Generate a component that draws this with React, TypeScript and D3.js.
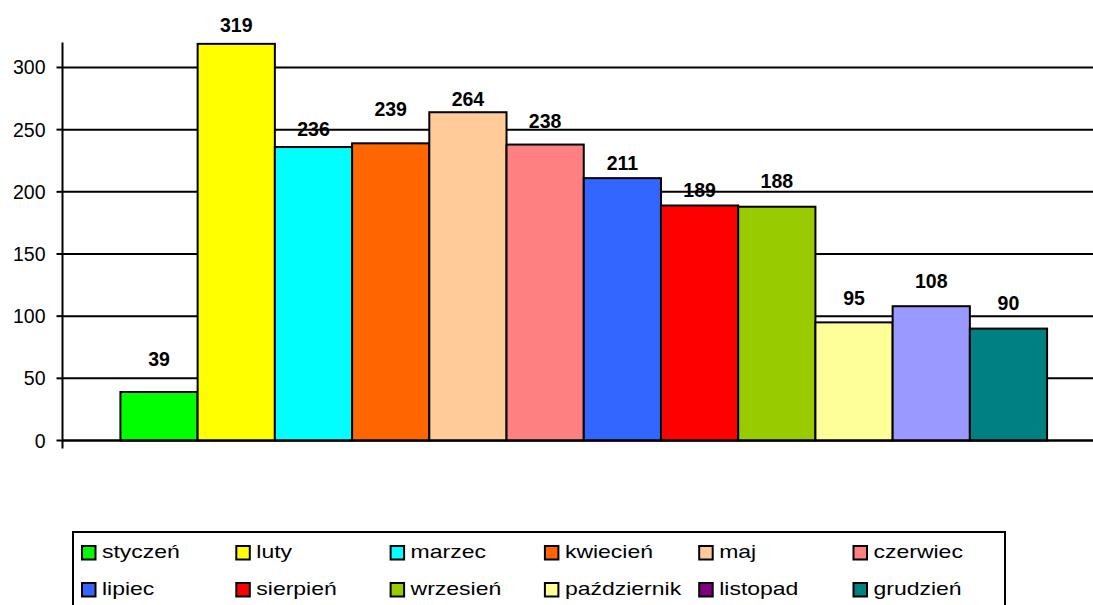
import React from "react";
import * as d3 from "d3";

const months = [
  "styczeń", "luty", "marzec", "kwiecień", "maj", "czerwiec",
  "lipiec", "sierpień", "wrzesień", "październik", "listopad", "grudzień",
];
const values = [39, 319, 236, 239, 264, 238, 211, 189, 188, 95, 108, 90];
const barColors = [
  "#00FF00", "#FFFF00", "#00FFFF", "#FF6600", "#FFCC99", "#FF8080",
  "#3366FF", "#FF0000", "#99CC00", "#FFFF99", "#9999FF", "#008080",
];
const legendColors = [
  "#00FF00", "#FFFF00", "#00FFFF", "#FF6600", "#FFCC99", "#FF8080",
  "#3366FF", "#FF0000", "#99CC00", "#FFFF99", "#800080", "#008080",
];
// gap (px) between bar top and label baseline, as placed in the original
const labelGaps = [26, 11.5, 10.6, 27, 6.6, 17, 8, 8, 18.4, 17.3, 18, 18.3];
const yTicks = [0, 50, 100, 150, 200, 250, 300];
const yMax = 320;

const W = 1093;
const H = 605;
const FONT = "'Liberation Sans', Arial, Helvetica, sans-serif";

export default function App() {
  const plotLeft = 62.5;
  const plotRight = 1105;
  const x = d3
    .scaleBand<string>()
    .domain(months)
    .range([plotLeft, plotRight])
    .paddingInner(0)
    .paddingOuter(0.75);
  const y = d3.scaleLinear().domain([0, yMax]).range([440.5, 42.6]);

  const legendCols = 6;
  const legendX0 = 81;
  const legendColStep = 154.3;
  const legendRowTops = [545, 582];

  return (
    <svg
      width={W}
      height={H}
      style={{ position: "absolute", left: 0, top: 0, background: "#fff" }}
      fontFamily={FONT}
    >
      <rect x={0} y={0} width={W} height={H} fill="#fff" />
      {/* gridlines */}
      {yTicks.map((t) => (
        <line
          key={"g" + t}
          x1={plotLeft}
          x2={plotRight}
          y1={y(t)}
          y2={y(t)}
          stroke="#000"
          strokeWidth={2}
        />
      ))}
      {/* bars */}
      {months.map((m, i) => (
        <rect
          key={m}
          x={x(m)!}
          y={y(values[i])}
          width={x.bandwidth()}
          height={y(0) - y(values[i])}
          fill={barColors[i]}
          stroke="#000"
          strokeWidth={2}
        />
      ))}
      {/* category axis */}
      <line x1={plotLeft} x2={plotRight} y1={y(0)} y2={y(0)} stroke="#000" strokeWidth={2} />
      <line x1={plotLeft} x2={plotLeft} y1={y(0)} y2={y(0) + 8} stroke="#000" strokeWidth={2} />
      {/* value axis */}
      <line x1={plotLeft} x2={plotLeft} y1={y(yMax)} y2={y(0)} stroke="#000" strokeWidth={2} />
      {yTicks.map((t) => (
        <g key={"t" + t}>
          <line x1={plotLeft - 6} x2={plotLeft} y1={y(t)} y2={y(t)} stroke="#000" strokeWidth={2} />
          <text x={45.5} y={y(t) + 7} textAnchor="end" fontSize={19.5} fill="#000">
            {t}
          </text>
        </g>
      ))}
      {/* data labels */}
      {months.map((m, i) => (
        <text
          key={"l" + m}
          x={x(m)! + x.bandwidth() / 2}
          y={y(values[i]) - labelGaps[i]}
          textAnchor="middle"
          fontSize={19.5}
          fontWeight="bold"
          fill="#000"
        >
          {values[i]}
        </text>
      ))}
      {/* legend */}
      <rect x={73} y={532} width={932} height={90} fill="#fff" stroke="#000" strokeWidth={2} />
      {months.map((m, i) => {
        const col = i % legendCols;
        const row = Math.floor(i / legendCols);
        const sx = legendX0 + col * legendColStep;
        const sy = legendRowTops[row];
        return (
          <g key={"lg" + m}>
            <rect
              x={sx + 1}
              y={sy + 1}
              width={13.5}
              height={13.5}
              fill={legendColors[i]}
              stroke="#000"
              strokeWidth={2}
            />
            <text
              transform={`translate(${sx + 21},${sy + 12.5}) scale(1.21,1)`}
              fontSize={19}
              fill="#000"
            >
              {m}
            </text>
          </g>
        );
      })}
    </svg>
  );
}
